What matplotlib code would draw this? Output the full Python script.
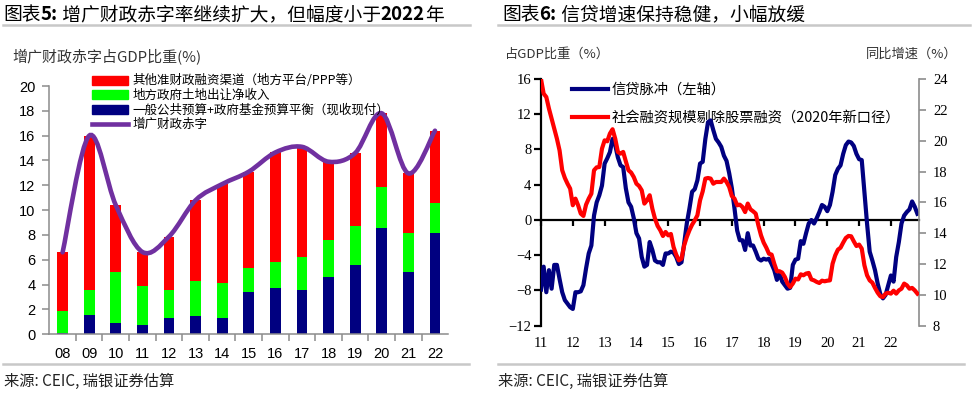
import numpy as np
import matplotlib
matplotlib.use("Agg")
import matplotlib.pyplot as plt
from matplotlib.path import Path
from matplotlib.patches import PathPatch, Patch
from matplotlib.lines import Line2D

CJK = ["Noto Sans CJK SC", "DejaVu Sans"]
plt.rcParams["font.family"] = CJK
plt.rcParams["axes.unicode_minus"] = True

# ---- chart 5: augmented fiscal deficit (% of GDP) ----
years5 = ["08", "09", "10", "11", "12", "13", "14", "15", "16", "17", "18", "19", "20", "21", "22"]
general_budget = [0.10, 1.56, 0.91, 0.75, 1.34, 1.50, 1.34, 3.38, 3.76, 3.60, 4.62, 5.58, 8.59, 5.05, 8.19]
land_sales = [1.75, 2.01, 4.14, 3.15, 2.20, 2.80, 2.82, 1.94, 2.09, 2.63, 2.95, 3.14, 3.31, 3.14, 2.39]
other_quasi = [4.75, 12.43, 5.35, 2.73, 4.33, 6.50, 7.94, 7.78, 8.80, 8.87, 6.33, 5.88, 5.90, 4.77, 5.82]

# ---- chart 6: credit impulse (left axis) and TSF growth (right axis), monthly Jan-2011 on ----
year_labels6 = ["11", "12", "13", "14", "15", "16", "17", "18", "19", "20", "21", "22"]
credit_impulse = [
    -7.9, -5.3, -8.2, -5.7, -7.8, -5.1, -5.1, -6.7, -8.2, -9.1, -9.5, -9.9,
    -10.1, -8.2, -8.2, -8.1, -7.4, -5.5, -3.8, -2.9, 0.5, 2.0, 2.8, 3.9,
    6.4, 7.0, 7.7, 9.2, 8.5, 7.1, 6.2, 6.0, 3.6, 2.0, 1.5, 0.2,
    -1.5, -2.1, -4.2, -5.3, -5.1, -2.5, -3.4, -4.6, -4.8, -4.8, -5.1, -3.8,
    -3.8, -3.6, -3.7, -4.2, -5.0, -4.8, -2.7, -0.4, 1.3, 3.2, 3.5, 4.5,
    6.4, 6.6, 9.2, 11.1, 11.3, 10.2, 9.2, 8.8, 8.3, 7.3, 6.7, 5.3,
    3.6, 1.3, -1.2, -2.3, -2.3, -3.4, -1.5, -2.9, -2.9, -3.6, -4.4, -4.6,
    -4.4, -4.5, -4.4, -5.0, -5.7, -6.8, -6.1, -7.0, -7.4, -7.8, -7.7, -5.1,
    -4.5, -4.4, -2.4, -2.7, -1.5, -0.4, 0.0, -0.4, 0.2, 0.9, 1.7, 1.5,
    1.0, 1.7, 3.2, 5.1, 5.8, 6.2, 7.5, 8.5, 8.9, 8.8, 8.4, 7.5,
    6.9, 6.8, 3.2, -0.4, -3.6, -4.6, -5.7, -7.2, -8.4, -8.9, -8.5, -7.4,
    -6.3, -7.0, -4.2, -2.5, -0.4, 0.5, 0.9, 1.2, 2.1, 1.5, 0.7,
]
tsf_growth = [
    24.0, 23.05, 22.83, 22.08, 21.43, 20.78, 20.13, 19.37, 18.08, 17.58, 17.21, 16.89,
    15.81, 16.24, 15.81, 15.27, 15.12, 15.85, 16.24, 16.56, 18.08, 18.27, 18.29, 19.48,
    20.02, 19.96, 20.46, 20.74, 20.13, 19.27, 19.16, 19.27, 18.66, 18.08, 17.93, 17.64,
    17.21, 17.06, 16.78, 15.92, 16.13, 16.46, 15.59, 14.94, 14.47, 14.19, 13.82, 14.08,
    13.86, 13.95, 13.11, 12.61, 12.24, 12.35, 13.21, 13.75, 14.19, 14.55, 14.83, 15.16,
    16.13, 16.71, 17.54, 17.58, 17.54, 17.21, 17.32, 17.32, 17.32, 17.54, 17.32, 17.0,
    16.41, 16.24, 15.81, 15.85, 15.70, 15.37, 15.92, 15.55, 15.42, 15.27, 14.51, 13.86,
    13.39, 13.06, 12.67, 12.61, 12.02, 11.53, 11.53, 11.44, 11.16, 10.73, 10.51, 10.73,
    11.05, 11.0, 11.33, 11.27, 11.38, 11.42, 11.0, 10.94, 10.84, 10.77, 10.92, 10.88,
    10.92, 10.94, 12.02, 12.56, 12.93, 13.06, 13.39, 13.69, 13.82, 13.80, 13.47, 13.17,
    13.26, 13.0, 11.92, 11.27, 10.94, 10.79, 10.45, 10.14, 9.91, 9.86, 10.08, 10.14,
    10.08, 10.27, 10.08, 10.29, 10.40, 10.73, 10.62, 10.40, 10.45, 10.29, 10.08,
]

W, H = 975, 394
fig = plt.figure(figsize=(W / 100, H / 100), dpi=100)


def fx(px):
    return px / W


def fy(py):
    return 1 - py / H


def smooth_path(xs, ys):
    # Bezier curve through the points, like a spreadsheet "smoothed line"
    pts = np.column_stack([xs, ys])
    n = len(pts)
    verts = [pts[0]]
    codes = [Path.MOVETO]
    for i in range(n - 1):
        p0 = pts[max(i - 1, 0)]
        p1 = pts[i]
        p2 = pts[i + 1]
        p3 = pts[min(i + 2, n - 1)]
        verts += [p1 + (p2 - p0) / 6, p2 - (p3 - p1) / 6, p2]
        codes += [Path.CURVE4] * 3
    return Path(verts, codes)


def title(x_px, parts):
    # chain the pieces so the digits can be bold
    prev = fig.text(fx(x_px), fy(15), parts[0][0], fontsize=13.5, va="center",
                    fontweight=parts[0][1], color="black")
    for txt, wt in parts[1:]:
        prev = fig.add_artist(
            matplotlib.text.Annotation(txt, xy=(1, 0.5), xycoords=prev, va="center",
                                       ha="left", fontsize=13.5, fontweight=wt, color="black"))


# ---------------- left chart ----------------
ax1 = fig.add_axes([fx(49.3), fy(334.3), fx(448.3 - 49.3), (334.3 - 86) / H])
x = np.arange(len(years5))
nav = np.array(general_budget)
grn = np.array(land_sales)
red = np.array(other_quasi)
total = nav + grn + red
ax1.bar(x, nav, width=0.4, color="#000080", zorder=2)
ax1.bar(x, grn, width=0.4, bottom=nav, color="#00FF00", zorder=2)
ax1.bar(x, red, width=0.4, bottom=nav + grn, color="#FF0000", zorder=2)
ax1.add_patch(PathPatch(smooth_path(x, total), facecolor="none", edgecolor="#7030A0",
                        lw=3.3, capstyle="round", zorder=3))
ax1.set_xlim(-0.5, len(years5) - 0.5)
ax1.set_ylim(0, 20)
ax1.set_yticks(np.arange(0, 21, 2))
ax1.set_xticks(x, years5)
ax1.set_xticks(np.arange(0.5, len(years5) - 1, 1), minor=True)
for s in ["top", "right"]:
    ax1.spines[s].set_visible(False)
for s in ["left", "bottom"]:
    ax1.spines[s].set_color("#8C8C8C")
    ax1.spines[s].set_linewidth(1.1)
ax1.tick_params(axis="x", which="major", length=0, pad=9, labelsize=10.5)
ax1.tick_params(axis="x", which="minor", length=5, color="#8C8C8C", width=1.1)
ax1.tick_params(axis="y", length=5, color="#8C8C8C", width=1.1, pad=5, labelsize=10.5)
for lab in ax1.get_xticklabels() + ax1.get_yticklabels():
    lab.set_fontfamily("Liberation Sans")

h1 = [Patch(color="#FF0000"), Patch(color="#00FF00"), Patch(color="#000080"),
      Line2D([], [], color="#7030A0", lw=3.3)]
l1 = ["其他准财政融资渠道（地方平台/PPP等）", "地方政府土地出让净收入",
      "一般公共预算+政府基金预算平衡（现收现付）", "增广财政赤字"]
ax1.legend(h1, l1, loc="upper left", bbox_to_anchor=(fx(91.7), fy(74.5)),
           bbox_transform=fig.transFigure, frameon=False, fontsize=9,
           handlelength=2.9, handletextpad=0.34, labelspacing=0.12,
           borderpad=0, borderaxespad=0)
fig.text(fx(12), fy(57.3), "增广财政赤字占GDP比重(%)", fontsize=10.8, va="center", color="#333333")

# ---------------- right chart ----------------
ax2 = fig.add_axes([fx(541), fy(325.7), fx(919 - 541), (325.7 - 79) / H])
months = np.arange(len(credit_impulse))
ax2.plot(months, credit_impulse, color="#000080", lw=3.0, zorder=3, solid_joinstyle="round")
ax2.set_xlim(0, 142.6)
ax2.set_ylim(-12, 16)
ax2.set_yticks(np.arange(-12, 17, 4))
ax2.spines["bottom"].set_position(("data", 0))
ax2.spines["bottom"].set_linewidth(1.6)
ax2.spines["left"].set_linewidth(1.6)
for s in ["top", "right"]:
    ax2.spines[s].set_visible(False)
year_pos = np.arange(0, 12 * len(year_labels6), 12)
ax2.set_xticks(year_pos)
ax2.tick_params(axis="x", direction="out", length=4, width=1.6, labelbottom=False)
ax2.tick_params(axis="y", length=5, width=1.6, pad=2, labelsize=10.5)
for lab in ax2.get_yticklabels():
    lab.set_fontfamily("Liberation Serif")
sec = ax2.secondary_xaxis(0)
sec.set_xticks(year_pos, year_labels6)
sec.tick_params(length=0, pad=8, labelsize=10.5)
sec.spines["bottom"].set_visible(False)
for lab in sec.get_xticklabels():
    lab.set_fontfamily("Liberation Serif")

ax3 = ax2.twinx()
ax3.plot(months, tsf_growth, color="#FF0000", lw=3.0, zorder=3, solid_joinstyle="round")
ax3.set_ylim(8, 24)
ax3.set_yticks(np.arange(8, 25, 2))
for s in ["top", "left", "bottom"]:
    ax3.spines[s].set_visible(False)
ax3.spines["right"].set_color("#8C8C8C")
ax3.spines["right"].set_linewidth(1.2)
ax3.tick_params(axis="y", length=5, width=1.2, color="#8C8C8C", pad=5, labelsize=10.5)
for lab in ax3.get_yticklabels():
    lab.set_fontfamily("Liberation Serif")

h2 = [Line2D([], [], color="#000080", lw=3.0), Line2D([], [], color="#FF0000", lw=3.0)]
l2 = ["信贷脉冲（左轴）", "社会融资规模剔除股票融资（2020年新口径）"]
leg2 = ax2.legend(h2, l2, loc="upper left", bbox_to_anchor=(fx(572), fy(83)),
                  bbox_transform=fig.transFigure, frameon=False, fontsize=10.3,
                  handlelength=2.5, handletextpad=0.3, labelspacing=0.95,
                  borderpad=0, borderaxespad=0)
leg2.set_zorder(2)
fig.text(fx(505), fy(54), "占GDP比重（%）", fontsize=9.5, va="center", color="#333333")
fig.text(fx(957), fy(54), "同比增速（%）", fontsize=9.5, va="center", ha="right", color="#333333")

# ---------------- titles, rules, sources ----------------
title(3, [("图表", "normal"), ("5:", "bold"), (" 增广财政赤字率继续扩大，但幅度小于", "normal"),
          ("2022", "bold"), ("年", "normal")])
title(502, [("图表", "normal"), ("6:", "bold"), (" 信贷增速保持稳健，小幅放缓", "normal")])
for x0, x1 in [(3, 470), (498, 970)]:
    fig.add_artist(Line2D([fx(x0), fx(x1)], [fy(25)] * 2, color="#C8C8C8", lw=1.8))
for x0, x1 in [(3, 469), (498, 964)]:
    fig.add_artist(Line2D([fx(x0), fx(x1)], [fy(364)] * 2, color="#C8C8C8", lw=1.8))
for x0 in [4, 498]:
    fig.text(fx(x0), fy(381.7), "来源: CEIC, 瑞银证券估算", fontsize=11, va="center",
             color="#222222")

fig.savefig("out.png", dpi=100)
